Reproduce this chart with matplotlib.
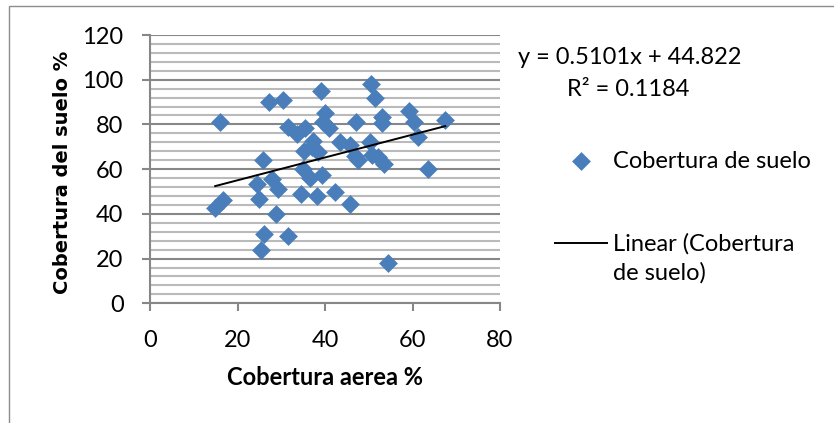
import numpy as np
import matplotlib.pyplot as plt
from matplotlib.ticker import MultipleLocator
from matplotlib.patches import Rectangle

# datos
cobertura_aerea = [16, 27.2, 30.5, 39.1, 50.6, 51.5, 39.9, 40.8, 39.6, 47, 53, 53.1, 59.2, 60.4, 61.2,
                   67.5, 31.5, 35.4, 33.5, 37.2, 37, 35.1, 38.5, 43.5, 45.8, 50.3, 50.7, 52, 47.6,
                   46.8, 53.4, 63.6, 25.8, 35, 39.3, 36.6, 27.8, 24.5, 29.3, 34.4, 38.1, 42.2, 24.8,
                   16.6, 14.9, 45.8, 28.7, 26, 31.5, 25.3, 54.4]
cobertura_suelo = [81, 90, 91, 95, 98, 92, 85, 78.5, 81, 81, 83.5, 80.5, 86, 81, 74.5,
                   82, 79, 78.3, 75.5, 72.8, 70, 68, 67.8, 72, 71, 72.3, 66.3, 65.5, 64,
                   66, 62.3, 60, 64, 60, 57.2, 56, 55.8, 53.3, 51, 49, 48, 50, 46.8,
                   46.2, 42.7, 44.2, 40, 31, 30, 24, 18]
pendiente = 0.5101
intercepto = 44.822
r2 = 0.1184

x_ticks = [0, 20, 40, 60, 80]
y_ticks = [0, 20, 40, 60, 80, 100, 120]

W, H = 834, 423
fig = plt.figure(figsize=(W / 100, H / 100), dpi=100)
fig.patch.set_facecolor('white')

# borde del area del grafico
fig.patches.append(Rectangle((9 / W, -0.1), 1.2, 1 - 6 / H + 0.1, transform=fig.transFigure,
                             fill=False, edgecolor='#8c8c8c', linewidth=1.0))

ax = fig.add_axes([150 / W, (H - 303.3) / H, 350 / W, 268.3 / H])

ax.yaxis.set_minor_locator(MultipleLocator(4))
ax.grid(True, which='major', axis='y', color='#878787', linewidth=1.5, zorder=0)
ax.grid(True, which='minor', axis='y', color='#bababa', linewidth=1.5, zorder=0)
ax.set_axisbelow(True)

puntos = ax.scatter(cobertura_aerea, cobertura_suelo, marker='D', s=92, color='#4a7ebb',
                    linewidths=0, zorder=3, label='Cobertura de suelo')

xs = np.array([min(cobertura_aerea), max(cobertura_aerea)])
linea, = ax.plot(xs, pendiente * xs + intercepto, color='black', linewidth=1.4, zorder=4,
                 label='Linear (Cobertura')

ax.set_xlim(0, 80)
ax.set_ylim(0, 120)
ax.set_xticks(x_ticks)
ax.set_yticks(y_ticks)

for s in ['top', 'right']:
    ax.spines[s].set_visible(False)
for s in ['left', 'bottom']:
    ax.spines[s].set_color('#878787')
    ax.spines[s].set_linewidth(1.5)

fnt = 'Lato'
fs = 17
ax.tick_params(axis='both', which='major', length=6, width=1.5, color='#878787',
               labelsize=fs)
ax.tick_params(axis='y', which='minor', length=0)
ax.tick_params(axis='x', pad=13)
ax.tick_params(axis='y', pad=13)
for lbl in ax.get_xticklabels() + ax.get_yticklabels():
    lbl.set_family(fnt)

ax.set_xlabel('Cobertura aerea %', fontsize=fs, fontweight='bold', family=fnt, labelpad=11)
ax.set_ylabel('Cobertura del suelo %', fontsize=14, fontweight='bold', family='DejaVu Sans')
ax.yaxis.set_label_coords((72 - 150) / 350, (303.3 - 172) / 268.3)

fig.text(518 / W, 1 - 58 / H, 'y = %.4fx + %.3f' % (pendiente, intercepto), fontsize=fs,
         family=fnt, va='center', ha='left')
fig.text(567 / W, 1 - 90 / H, 'R² = %.4f' % r2, fontsize=fs, family=fnt, va='center', ha='left')

leg = ax.legend(handles=[puntos, linea], loc='upper left', bbox_to_anchor=(555 / W, 1 - 150.5 / H),
                bbox_transform=fig.transFigure, frameon=False, prop={'family': fnt, 'size': fs},
                handlelength=2.2, handletextpad=0.25, borderpad=0, borderaxespad=0,
                labelspacing=2.62)
fig.text(613 / W, 1 - 273 / H, 'de suelo)', fontsize=fs, family=fnt, va='center', ha='left')

fig.savefig('out.png', dpi=100)
